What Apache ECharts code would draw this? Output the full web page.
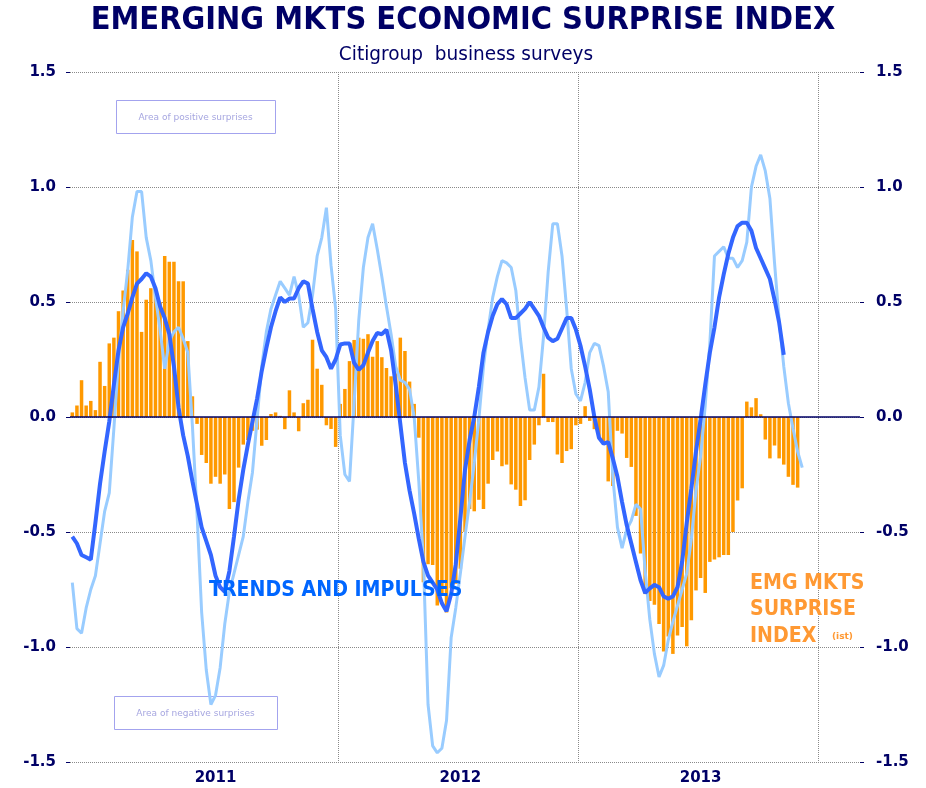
<!DOCTYPE html>
<html>
<head>
<meta charset="utf-8">
<script src="https://cdn.jsdelivr.net/npm/echarts@6/dist/echarts.min.js"></script>
<style>
  html, body { margin: 0; padding: 0; background: #fff; }
  #chart { width: 926px; height: 788px; }
</style>
</head>
<body>
<div id="chart"></div>
<script>
// weekly readings, first week ends 26 Nov 2010; axis runs a few weeks into 2014
const weekCount = 171;
const weeks = [];
for (let i = 0; i < weekCount; i++) {
  const d = new Date(2010, 10, 26 + 7 * i);
  weeks.push(d.getFullYear() + "-" + String(d.getMonth() + 1).padStart(2, "0") + "-" + String(d.getDate()).padStart(2, "0"));
}

const yTicks = [-1.5, -1.0, -0.5, 0.0, 0.5, 1.0, 1.5];

// EMG MKTS surprise index (orange histogram)
const surpriseHist = [
  0.02, 0.05, 0.16, 0.05, 0.07, 0.03, 0.24, 0.135, 0.32, 0.345,
  0.46, 0.55, 0.64, 0.77, 0.72, 0.37, 0.51, 0.56, 0.55, 0.50,
  0.70, 0.675, 0.675, 0.59, 0.59, 0.33, 0.09, -0.03, -0.165, -0.20,
  -0.29, -0.26, -0.29, -0.25, -0.40, -0.37, -0.22, -0.12, -0.10, -0.06,
  -0.055, -0.125, -0.10, 0.013, 0.02, 0.005, -0.053, 0.116, 0.02, -0.062,
  0.06, 0.075, 0.336, 0.21, 0.14, -0.036, -0.052, -0.13, 0.057, 0.122,
  0.243, 0.335, 0.345, 0.34, 0.36, 0.262, 0.33, 0.26, 0.213, 0.177,
  0.19, 0.345, 0.287, 0.154, 0.057, -0.09, -0.718, -0.64, -0.643, -0.82,
  -0.77, -0.85, -0.745, -0.725, -0.66, -0.50, -0.40, -0.41, -0.36, -0.40,
  -0.29, -0.187, -0.15, -0.214, -0.207, -0.293, -0.316, -0.387, -0.362, -0.187,
  -0.12, -0.036, 0.188, -0.022, -0.022, -0.163, -0.20, -0.148, -0.14, -0.036,
  -0.03, 0.047, -0.017, -0.053, -0.09, -0.11, -0.28, -0.30, -0.06, -0.072,
  -0.178, -0.217, -0.43, -0.594, -0.77, -0.80, -0.816, -0.90, -1.02, -0.954,
  -1.03, -0.95, -0.913, -0.997, -0.884, -0.754, -0.70, -0.765, -0.63, -0.62,
  -0.61, -0.60, -0.60, -0.50, -0.363, -0.31, 0.067, 0.042, 0.082, 0.012,
  -0.098, -0.18, -0.124, -0.18, -0.207, -0.26, -0.295, -0.307
];

// light blue line
const impulseLine = [
  -0.72, -0.92, -0.94, -0.83, -0.75, -0.69, -0.55, -0.41, -0.33, -0.05,
  0.25, 0.46, 0.64, 0.87, 0.98, 0.98, 0.78, 0.68, 0.52, 0.38,
  0.21, 0.33, 0.37, 0.39, 0.34, 0.28, -0.04, -0.42, -0.85, -1.10,
  -1.25, -1.21, -1.09, -0.90, -0.76, -0.68, -0.60, -0.52, -0.37, -0.24,
  -0.01, 0.22, 0.37, 0.47, 0.53, 0.59, 0.56, 0.53, 0.61, 0.53,
  0.39, 0.41, 0.53, 0.70, 0.78, 0.91, 0.66, 0.47, -0.08, -0.25,
  -0.28, 0.06, 0.42, 0.65, 0.78, 0.84, 0.73, 0.61, 0.48, 0.36,
  0.22, 0.16, 0.15, 0.12, 0.0, -0.28, -0.63, -1.25, -1.43, -1.46,
  -1.44, -1.32, -0.96, -0.83, -0.68, -0.52, -0.37, -0.20, -0.01, 0.22,
  0.38, 0.52, 0.61, 0.68, 0.67, 0.65, 0.55, 0.34, 0.17, 0.03,
  0.03, 0.13, 0.35, 0.63, 0.84, 0.84, 0.70, 0.47, 0.21, 0.10,
  0.07, 0.15, 0.28, 0.32, 0.31, 0.22, 0.11, -0.26, -0.48, -0.57,
  -0.49, -0.45, -0.38, -0.40, -0.67, -0.88, -1.03, -1.13, -1.08, -0.97,
  -0.89, -0.82, -0.75, -0.68, -0.53, -0.32, -0.17, 0.05, 0.32, 0.70,
  0.72, 0.74, 0.69, 0.69, 0.65, 0.68, 0.76, 1.00, 1.09, 1.14,
  1.07, 0.95, 0.67, 0.42, 0.22, 0.06, -0.05, -0.15, -0.22
];

// dark blue line: TRENDS AND IMPULSES
const trendLine = [
  -0.52, -0.55, -0.60, -0.61, -0.62, -0.46, -0.29, -0.15, -0.02, 0.14,
  0.29, 0.39, 0.45, 0.52, 0.58, 0.60, 0.625, 0.61, 0.56, 0.48,
  0.43, 0.36, 0.22, 0.04, -0.08, -0.17, -0.28, -0.38, -0.48, -0.54,
  -0.60, -0.69, -0.74, -0.76, -0.67, -0.52, -0.36, -0.23, -0.12, -0.02,
  0.08, 0.20, 0.30, 0.39, 0.46, 0.52, 0.50, 0.515, 0.515, 0.56,
  0.59, 0.58, 0.47, 0.37, 0.29, 0.26, 0.21, 0.25, 0.315, 0.32,
  0.32, 0.235, 0.205, 0.225, 0.28, 0.33, 0.365, 0.36, 0.38, 0.29,
  0.14, -0.03, -0.20, -0.32, -0.42, -0.53, -0.63, -0.69, -0.72, -0.75,
  -0.81, -0.845, -0.77, -0.64, -0.44, -0.23, -0.10, 0.0, 0.13, 0.28,
  0.37, 0.44, 0.49, 0.513, 0.49, 0.43, 0.43, 0.45, 0.47, 0.50,
  0.47, 0.44, 0.39, 0.345, 0.33, 0.34, 0.385, 0.43, 0.43, 0.38,
  0.31, 0.22, 0.12, 0.0, -0.09, -0.116, -0.109, -0.18, -0.26, -0.37,
  -0.47, -0.55, -0.63, -0.71, -0.765, -0.745, -0.73, -0.74, -0.78, -0.79,
  -0.78, -0.74, -0.63, -0.46, -0.31, -0.15, -0.01, 0.14, 0.28, 0.39,
  0.52, 0.62, 0.71, 0.78, 0.83, 0.845, 0.845, 0.81, 0.735, 0.69,
  0.645, 0.60, 0.51, 0.41, 0.27
];

const navy = "#000066";
const font = "DejaVu Sans";

const isYearStart = (idx) => idx > 0 && weeks[idx].slice(0, 4) !== weeks[idx - 1].slice(0, 4);
const isMidYear = (idx, val) => val.slice(5, 7) === "07" && Number(val.slice(8, 10)) <= 7;

const yAxisBase = {
  type: "value",
  min: yTicks[0],
  max: yTicks[yTicks.length - 1],
  interval: 0.5,
  axisLine: { show: false },
  axisTick: { show: true, length: 4, lineStyle: { color: navy } },
  axisLabel: {
    color: navy, fontFamily: font, fontWeight: "bold", fontSize: 15,
    formatter: (v) => v.toFixed(1)
  }
};

const chart = echarts.init(document.getElementById("chart"), null, { renderer: "canvas" });
chart.setOption({
  animation: false,
  backgroundColor: "#ffffff",
  grid: { left: 70, right: 66, top: 72, bottom: 26, containLabel: false },
  xAxis: {
    type: "category",
    data: weeks,
    boundaryGap: true,
    axisLine: { show: false },
    axisTick: { show: false },
    axisLabel: {
      interval: isMidYear,
      formatter: (v) => v.slice(0, 4),
      color: navy, fontFamily: font, fontWeight: "bold", fontSize: 15, margin: 9
    },
    splitLine: {
      show: true,
      interval: (idx) => isYearStart(idx),
      showMinLine: false,
      showMaxLine: false,
      lineStyle: { color: "#8a8a8a", type: [1, 1], width: 1 }
    }
  },
  yAxis: [
    Object.assign({}, yAxisBase, {
      position: "left",
      splitLine: { show: true, lineStyle: { color: "#8a8a8a", type: [1, 1], width: 1 } },
      axisLabel: Object.assign({}, yAxisBase.axisLabel, { margin: 14 })
    }),
    Object.assign({}, yAxisBase, {
      position: "right",
      splitLine: { show: false },
      axisLabel: Object.assign({}, yAxisBase.axisLabel, { margin: 16 })
    })
  ],
  series: [
    {
      name: "EMG MKTS SURPRISE INDEX",
      type: "bar",
      data: surpriseHist,
      barWidth: 3.5,
      itemStyle: { color: "#ff9900" },
      markLine: {
        silent: true,
        symbol: "none",
        label: { show: false },
        lineStyle: { color: navy, type: "solid", width: 1.5 },
        data: [{ yAxis: 0 }]
      }
    },
    {
      name: "impulses",
      type: "line",
      data: impulseLine,
      showSymbol: false,
      lineStyle: { color: "#99ccff", width: 3 },
      z: 3
    },
    {
      name: "TRENDS AND IMPULSES",
      type: "line",
      data: trendLine,
      showSymbol: false,
      lineStyle: { color: "#3366ff", width: 4 },
      z: 4
    }
  ],
  graphic: [
    {
      type: "text", x: 463, y: 4, scaleY: 1.12, z: 10,
      style: { text: "EMERGING MKTS ECONOMIC SURPRISE INDEX", fill: navy, font: "bold 29px DejaVu Sans", textAlign: "center", textVerticalAlign: "top" }
    },
    {
      type: "text", x: 466, y: 45, scaleY: 1.08, z: 10,
      style: { text: "Citigroup  business surveys", fill: navy, font: "18.5px DejaVu Sans", textAlign: "center", textVerticalAlign: "top" }
    },
    {
      type: "group", left: 114, top: 98,
      children: [
        { type: "rect", shape: { x: 0, y: 0, width: 159, height: 33 }, style: { fill: "none", stroke: "#a3a3ee", lineWidth: 1 } },
        { type: "text", x: 79, y: 17, style: { text: "Area of positive surprises", fill: "#a6a6e0", font: "9px DejaVu Sans", textAlign: "center", textVerticalAlign: "middle" } }
      ]
    },
    {
      type: "group", left: 112, top: 694,
      children: [
        { type: "rect", shape: { x: 0, y: 0, width: 163, height: 33 }, style: { fill: "none", stroke: "#a3a3ee", lineWidth: 1 } },
        { type: "text", x: 81, y: 17, style: { text: "Area of negative surprises", fill: "#a6a6e0", font: "9px DejaVu Sans", textAlign: "center", textVerticalAlign: "middle" } }
      ]
    },
    {
      type: "text", x: 209, y: 580, scaleY: 1.12, z: 10,
      style: { text: "TRENDS AND IMPULSES", fill: "#0066ff", font: "bold 19px DejaVu Sans", textVerticalAlign: "top" }
    },
    {
      type: "text", x: 750, y: 570, scaleY: 1.15, z: 10,
      style: { text: "EMG MKTS\nSURPRISE\nINDEX", fill: "#ff9933", font: "bold 19px DejaVu Sans", lineHeight: 23, textVerticalAlign: "top" }
    },
    {
      type: "text", x: 832, y: 632, z: 10,
      style: { text: "(ist)", fill: "#ff9933", font: "bold 9px DejaVu Sans", textVerticalAlign: "top" }
    }
  ]
});
</script>
</body>
</html>
